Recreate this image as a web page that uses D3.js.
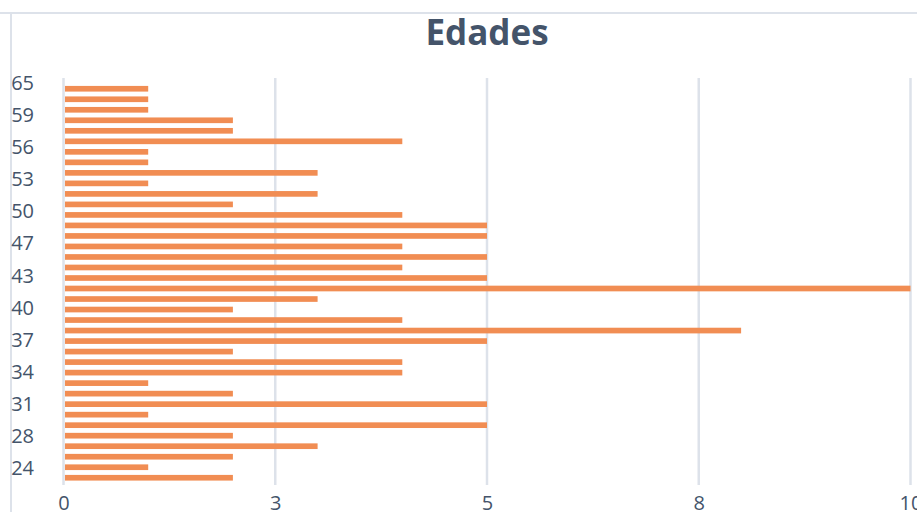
<!DOCTYPE html>
<html>
<head>
<meta charset="utf-8">
<script src="https://cdn.jsdelivr.net/npm/d3@7"></script>
<style>
  body { margin: 0; background: #fff; }
  svg { display: block; font-family: "Open Sans", sans-serif; }
</style>
</head>
<body>
<div id="chart"></div>
<script>
// ages (bottom to top, as Excel draws them) and how many people have each
const ages = ["23","24","25","26","28","29","30","31","32","33","34","35","36","37","38","39","40","41","42","43","44","45","47","48","49","50","51","52","53","54","55","56","57","58","59","60","62","65"];
const counts = [2,1,2,3,2,5,1,5,2,1,4,4,2,5,8,4,2,3,10,5,4,5,4,5,5,4,2,3,1,3,1,1,4,2,2,1,1,1];
// only every third age gets a label
const ageLabels = ["24","28","31","34","37","40","43","47","50","53","56","59","65"];
// x ticks - excel rounds 2.5 & 7.5 in the labels
const xTicks = [0, 2.5, 5, 7.5, 10];
const xTickLabels = ["0","3","5","8","10"];

const w = 917, h = 512;
const barColor = "#f18d53";
const gridColor = "#dde2ea";
const textColor = "#44546a";

const data = ages.map((a, i) => ({ age: a, n: counts[i] }));

const svg = d3.select("#chart").append("svg")
  .attr("width", w)
  .attr("height", h);

// chart border (only top & left visible in the crop)
svg.append("line")
  .attr("x1", 0).attr("x2", w).attr("y1", 13).attr("y2", 13)
  .attr("stroke", gridColor).attr("stroke-width", 2);
svg.append("line")
  .attr("x1", 11).attr("x2", 11).attr("y1", 13).attr("y2", h)
  .attr("stroke", gridColor).attr("stroke-width", 2);

// scales
const xScale = d3.scaleLinear().domain([0, 10]).range([63.5, 910.5]);
// axis labels sit on the full plot height
const yAxisScale = d3.scaleBand().domain(ages.slice().reverse()).range([78, 485]);
// bars
const yScale = d3.scaleBand().domain(ages.slice().reverse()).range([83.5, 483]).paddingInner(0.46).paddingOuter(0.23);

// gridlines
svg.append("g")
  .selectAll("line")
  .data(xTicks)
  .join("line")
  .attr("x1", d => xScale(d)).attr("x2", d => xScale(d))
  .attr("y1", 78).attr("y2", 485)
  .attr("stroke", gridColor).attr("stroke-width", 2.5);

// bars
svg.append("g")
  .selectAll("rect")
  .data(data)
  .join("rect")
  .attr("x", xScale(0) + 1.5)
  .attr("y", d => yScale(d.age))
  .attr("width", d => xScale(d.n) - xScale(0) - 1.5)
  .attr("height", yScale.bandwidth())
  .attr("fill", barColor);

// x axis
const xAxis = d3.axisBottom(xScale)
  .tickValues(xTicks)
  .tickFormat((d, i) => xTickLabels[i])
  .tickSize(0)
  .tickPadding(0);
const gx = svg.append("g")
  .attr("transform", "translate(0,496)")
  .call(xAxis);
gx.select(".domain").remove();
gx.selectAll("text")
  .attr("fill", textColor)
  .attr("font-size", "20px")
  .attr("font-family", "Open Sans, sans-serif");

// y axis
const yAxis = d3.axisLeft(yAxisScale)
  .tickValues(ageLabels)
  .tickSize(0)
  .tickPadding(0);
const gy = svg.append("g")
  .attr("transform", "translate(34,0)")
  .call(yAxis);
gy.select(".domain").remove();
gy.selectAll("text")
  .attr("fill", textColor)
  .attr("font-size", "20px")
  .attr("font-family", "Open Sans, sans-serif");

// title
svg.append("text")
  .attr("x", 487)
  .attr("y", 45)
  .attr("text-anchor", "middle")
  .attr("font-size", "35px")
  .attr("font-weight", "bold")
  .attr("fill", textColor)
  .text("Edades");
</script>
</body>
</html>
